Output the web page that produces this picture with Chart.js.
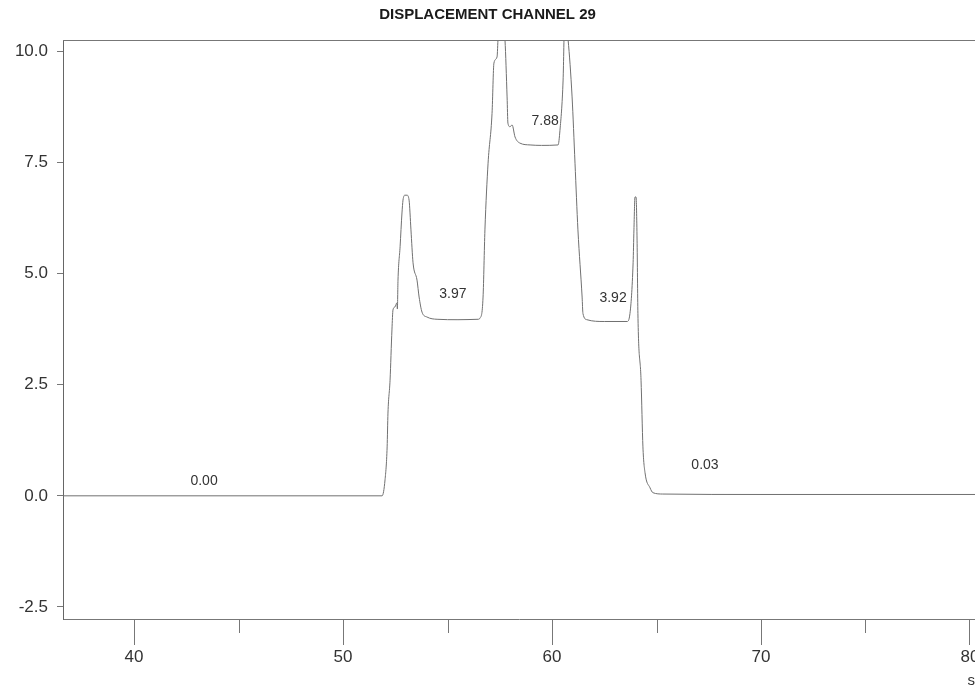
<!DOCTYPE html>
<html>
<head>
<meta charset="utf-8">
<title>Displacement channel 29</title>
<script src="https://cdn.jsdelivr.net/npm/chart.js@4.4.1/dist/chart.umd.min.js"></script>
<style>
    body { margin: 0; background: #fff; overflow: hidden; }
    #wrap { position: absolute; left: 0; top: 0; }
</style>
</head>
<body>
<div id="wrap"><canvas id="dispChart" width="990" height="690"></canvas></div>
<script>

// trace (x in s, y displacement)
var timeS = [36.6, 51.87, 52.01, 52.11, 52.15, 52.25, 52.34, 52.39, 52.49, 52.58, 52.6, 52.63,
    52.73, 52.82, 52.87, 52.96, 53.06, 53.16, 53.25, 53.35, 53.54, 53.64, 53.78, 54.02, 54.5,
    55.5, 56.46, 56.56, 56.7, 56.79, 56.94, 57.13, 57.22, 57.37, 57.42, 57.5, 57.6, 57.7, 57.75,
    57.85, 57.89, 57.99, 58.09, 58.23, 58.47, 58.95, 59.5, 60.29, 60.38, 60.53, 60.6, 60.7, 60.77,
    60.96, 61.1, 61.24, 61.44, 61.48, 61.67, 62.5, 63.59, 63.73, 63.88, 63.92, 63.97, 64.02,
    64.07, 64.11, 64.26, 64.35, 64.45, 64.69, 64.83, 65.3, 70, 80.3];
var displacement = [0, 0, 0.36, 1.1, 1.86, 2.6, 3.73, 4.18, 4.25, 4.34, 4.2, 4.85,
    5.6, 6.36, 6.65, 6.76, 6.76, 6.65, 5.98, 5.24, 4.85, 4.47, 4.13, 4.02, 3.97,
    3.96, 3.97, 4.0, 4.47, 5.98, 7.48, 8.6, 9.73, 9.87, 10.3, 10.6, 10.7, 10.5, 10.25,
    8.97, 8.38, 8.3, 8.34, 8.07, 7.93, 7.89, 7.88, 7.89, 8.22, 9.35, 10.6, 10.5, 10.25,
    8.97, 7.48, 5.98, 4.47, 4.1, 3.96, 3.92, 3.92, 4.1, 5.24, 5.98, 6.72, 6.72,
    5.75, 4.1, 2.6, 1.1, 0.52, 0.18, 0.07, 0.04, 0.03, 0.03];

// printed plateau values
var levelText = ["0.00", "3.97", "7.88", "3.92", "0.03"];
var levelX = [43.35, 55.26, 59.67, 62.92, 67.32];
var levelY = [0.34, 4.54, 8.43, 4.45, 0.70];

var minorTicks = [45, 55, 65, 75];

var points = timeS.map(function(t, i) { return {x: t, y: displacement[i]}; });

var frameColor = "#777";
var fontFam = "'Liberation Sans', Arial, sans-serif";

var extrasPlugin = {
    id: "extras",
    afterDraw: function(chart) {
        var c = chart.ctx, area = chart.chartArea;
        var xs = chart.scales.x, ys = chart.scales.y;
        c.save();
        // top frame line
        c.strokeStyle = frameColor;
        c.lineWidth = 1;
        c.beginPath();
        c.moveTo(area.left, area.top + 0.5);
        c.lineTo(area.right, area.top + 0.5);
        c.stroke();
        // short ticks at the half decades
        minorTicks.forEach(function(v) {
            var px = Math.round(xs.getPixelForValue(v)) + 0.5;
            c.beginPath();
            c.moveTo(px, area.bottom);
            c.lineTo(px, area.bottom + 14);
            c.stroke();
        });
        // plateau labels
        c.fillStyle = "#333";
        c.font = "14px " + fontFam;
        c.textAlign = "center";
        c.textBaseline = "middle";
        levelText.forEach(function(txt, i) {
            c.fillText(txt, xs.getPixelForValue(levelX[i]), ys.getPixelForValue(levelY[i]));
        });
        c.restore();
    }
};

var ctx = document.getElementById("dispChart").getContext("2d");
new Chart(ctx, {
    type: "line",
    data: {
        datasets: [{
            data: points,
            borderColor: "#707070",
            borderWidth: 1,
            pointRadius: 0,
            cubicInterpolationMode: "monotone",
            fill: false,
            clip: 0
        }]
    },
    options: {
        responsive: false,
        animation: false,
        devicePixelRatio: 1,
        layout: { padding: { left: 0, right: 15, top: 0, bottom: 0 } },
        plugins: {
            legend: { display: false },
            tooltip: { enabled: false },
            title: {
                display: true,
                text: "DISPLACEMENT CHANNEL 29",
                color: "#1a1a1a",
                font: { family: fontFam, size: 15, weight: "bold" },
                padding: { top: 6, bottom: 16 }
            }
        },
        scales: {
            x: {
                type: "linear",
                min: 36.6,
                max: 80.24,
                afterFit: function(s) { s.height = 71; },
                grid: { drawOnChartArea: false, tickLength: 26, color: frameColor },
                border: { color: frameColor, width: 1 },
                ticks: {
                    stepSize: 10,
                    includeBounds: false,
                    maxRotation: 0,
                    padding: 2,
                    color: "#333",
                    font: { family: fontFam, size: 17 },
                    callback: function(v) { return v.toFixed(0); }
                },
                title: {
                    display: true,
                    text: "s",
                    align: "end",
                    color: "#333",
                    padding: 0,
                    font: { family: fontFam, size: 15 }
                }
            },
            y: {
                type: "linear",
                min: -2.77,
                max: 10.25,
                afterFit: function(s) { s.width = 63; },
                grid: { drawOnChartArea: false, tickLength: 6, color: frameColor },
                border: { color: "#666", width: 1 },
                ticks: {
                    stepSize: 2.5,
                    includeBounds: false,
                    padding: 9,
                    color: "#333",
                    font: { family: fontFam, size: 17 },
                    callback: function(v) { return v.toFixed(1); }
                }
            }
        }
    },
    plugins: [extrasPlugin]
});
</script>
</body>
</html>
